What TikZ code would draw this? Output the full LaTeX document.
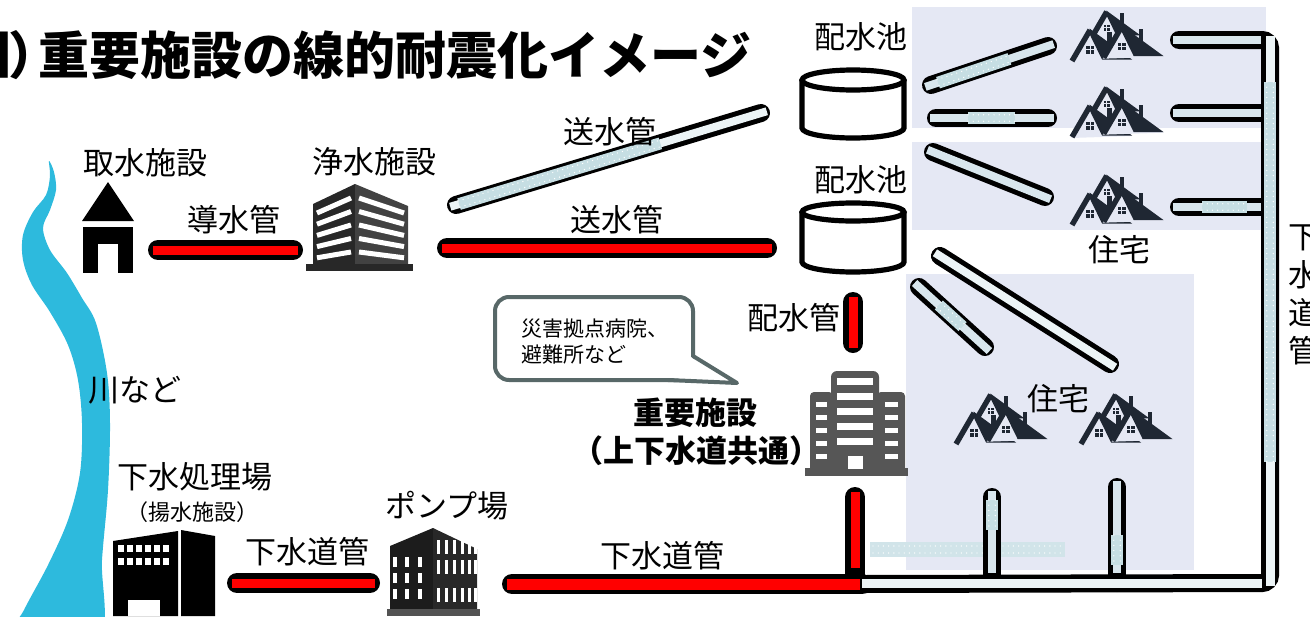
\documentclass[tikz,border=0pt]{standalone}
\usepackage{fontspec}
\setmainfont{Noto Sans CJK JP}
\usetikzlibrary{calc}

\definecolor{river}{RGB}{45,186,221}
\definecolor{pipered}{RGB}{255,0,0}
\definecolor{pipelight}{RGB}{216,230,237}
\definecolor{pipepale}{RGB}{236,244,246}
\definecolor{pipedot}{RGB}{198,222,227}
\definecolor{panel}{RGB}{229,232,244}
\definecolor{roofink}{RGB}{31,39,51}
\definecolor{bldggray}{RGB}{86,86,86}
\definecolor{bubbleline}{RGB}{88,104,104}
\definecolor{plantink}{RGB}{40,40,40}

% one house of the roof cluster, apex at the origin
\newcommand\houseunit[3]{%
  \begin{scope}[shift={(#1,#2)},scale=#3]
    \fill[panel] (0,0) -- (-19,32) -- (42,30) -- cycle;
    \fill[roofink] (-0.5,-1.5) -- (42,29.5) -- (12,29.5) -- (0,5) -- cycle;
    \draw[roofink, line width=2.7pt] (0,0) -- (-18,31);
    \fill[roofink] (17,2) rectangle (21.5,16);
    \fill[roofink] (-3.8,16) rectangle (3.8,23.5);
    \draw[panel, line width=0.5pt] (0,16) -- (0,23.5) (-3.8,19.75) -- (3.8,19.75);
  \end{scope}}

% textured (earthquake-proof) stretch of a pipe between two named points
\newcommand\dotseg[2]{%
  \draw[dotin] (#1) -- (#2);
  \draw[dotmark] ($(#1)!1.6pt!90:(#2)$) -- ($(#2)!1.6pt!-90:(#1)$);
  \draw[dotmark] ($(#1)!1.6pt!-90:(#2)$) -- ($(#2)!1.6pt!90:(#1)$);}

\tikzset{
  lbl/.style={inner sep=0pt, font=\fontsize{15.5pt}{18pt}\selectfont},
  small/.style={inner sep=0pt, font=\fontsize{11pt}{13pt}\selectfont},
  boldlbl/.style={inner sep=0pt, font=\bfseries\fontsize{15.5pt}{19pt}\selectfont},
  redout/.style={draw=black, line width=10pt, line cap=round},
  redin/.style={draw=pipered, line width=4.5pt, shorten <=-2.5pt, shorten >=-2.5pt},
  pipeout/.style={draw=black, line width=9pt, line cap=round},
  lightin/.style={draw=pipelight, line width=4pt, shorten <=-3pt, shorten >=-3pt},
  palein/.style={draw=pipepale, line width=4pt, shorten <=-3pt, shorten >=-3pt},
  dotin/.style={draw=pipedot, line width=6pt},
  dotmark/.style={draw=white, line width=0.7pt, line cap=round, dash pattern=on 0pt off 2.6pt},
  tank/.style={draw=black, line width=2.6pt, fill=white},
  houses/.pic={
    \houseunit{38.7}{1.7}{0.8}
    \houseunit{22}{20}{1}
    \houseunit{53.7}{16.7}{1}
  }
}

\begin{document}
\begin{tikzpicture}[x=0.5pt,y=-0.5pt]
\useasboundingbox (0,0) rectangle (1310,616);
\clip (0,0) rectangle (1310,616);

% residential areas
\fill[panel] (912,7) rectangle (1266,128);
\fill[panel] (912,142) rectangle (1264,230);
\fill[panel] (906,274) rectangle (1194,570);

% river
\fill[river] plot[smooth cycle, tension=0.55] coordinates {
  (49,161) (50,176) (46,195) (33,212) (23,235) (23,260) (32,285) (50,312)
  (68,345) (78,380) (82,423) (80,473) (68,520) (48,565) (24,610) (12,640)
  (98,640) (102,560) (108,490) (110,423) (107,373) (96,323) (82,298)
  (67,273) (50,250) (43,228) (50,210) (56,190) (54,172)};

% intake facility
\fill (108,182) -- (134,221) -- (82,221) -- cycle;
\fill (83,227) rectangle (133,273);
\fill[white] (98,244) rectangle (118,274);

% purification plant
\fill[plantink] (313,204) -- (355,184) -- (355,266) -- (313,266) -- cycle;
\fill[plantink!88!white] (355,184) -- (408,206) -- (408,266) -- (355,266) -- cycle;
\foreach \k in {0,...,4}{
  \draw[white, line width=2.5pt] (317,{213+11.2*\k}) -- (351,{198+13.5*\k});
  \draw[white, line width=2.5pt] (359,{198+13.5*\k}) -- (404,{213+11.2*\k});
}
\fill[plantink] (306,264) rectangle (413,271);

% distribution reservoirs
\draw[tank] (802,80) -- (802,128) arc[start angle=180, end angle=0, x radius=51, y radius=10] -- (904,80);
\draw[tank] (853,80) ellipse [x radius=51, y radius=10];
\draw[tank] (802,212) -- (802,262) arc[start angle=180, end angle=0, x radius=51, y radius=10] -- (904,212);
\draw[tank] (853,212) ellipse [x radius=51, y radius=9];

% key facility building
\begin{scope}[bldggray]
  \fill[rounded corners=3pt] (831,371) rectangle (879,474);
  \fill[rounded corners=2pt] (810,392) rectangle (833,474);
  \fill[rounded corners=2pt] (877,392) rectangle (905,474);
  \fill (805,468) rectangle (908,476);
\end{scope}
\foreach \y in {378,393,408,423,438}{\fill[white] (837,\y) rectangle (873,\y+7);}
\foreach \y in {402,415,428,441,454}{
  \fill[white] (816,\y) rectangle (827,\y+5);
  \fill[white] (885,\y) rectangle (898,\y+5);}
\fill[white] (848,456) rectangle (863,469);

% sewage treatment plant
\fill (113,541) -- (178,531) -- (178,616) -- (113,616) -- cycle;
\fill (181,530) -- (215,536) -- (215,616) -- (181,616) -- cycle;
\foreach \r in {545,558}{\foreach \c in {0,...,5}{\fill[white] ({118+9*\c},\r) rectangle ({124+9*\c},\r+7);}}
\fill[white] (128,600) rectangle (160,616);

% pumping station
\fill[plantink!70!black] (390,546) -- (433,528) -- (433,612) -- (390,612) -- cycle;
\fill[plantink] (433,528) -- (477,549) -- (477,612) -- (433,612) -- cycle;
\foreach \c in {393,405,418}{\foreach \r in {557,573,589}{\fill[white] (\c,\r) rectangle (\c+3.5,\r+10);}}
\foreach \c in {437,445,453,461,468,474}{\foreach \r in {540,560,588}{\fill[white] (\c,\r) rectangle (\c+3,\r+14);}}
\fill[plantink!80!white] (387,609) rectangle (480,616);

% roof clusters
\pic (hA) at (1068,10) {houses};
\pic (hB) at (1068,86) {houses};
\pic (hC) at (1068,174) {houses};
\pic (hD) at (952,393) {houses};
\pic (hE) at (1077,393) {houses};

% faded service line
\fill[pipedot!80!white] (870,542) rectangle (1065,557);
\draw[dotmark] (873,546) -- (1063,546);
\draw[dotmark] (873,553) -- (1063,553);

% ---------- pipes: named end points ----------
\coordinate (dA) at (158,250);  \coordinate (dB) at (293,250);
\coordinate (sA) at (447,248);  \coordinate (sB) at (767,248);
\coordinate (uA) at (456,205);  \coordinate (uB) at (761,113);
\coordinate (hA1) at (853,302); \coordinate (hA2) at (853,343);
\coordinate (gA) at (237,583);  \coordinate (gB) at (370,583);
\coordinate (mA) at (512,584);  \coordinate (mB) at (862,584);
\coordinate (kA) at (855,497);  \coordinate (kB) at (855,583);
\coordinate (pA1) at (931,85);  \coordinate (pA2) at (1048,46);
\coordinate (pB1) at (936,118); \coordinate (pB2) at (1048,118);
\coordinate (pC1) at (1179,40); \coordinate (pC2) at (1270,40);
\coordinate (pD1) at (1179,113); \coordinate (pD2) at (1270,113);
\coordinate (pE1) at (933,152); \coordinate (pE2) at (1045,197);
\coordinate (pF1) at (1179,207); \coordinate (pF2) at (1270,207);
\coordinate (pI1) at (919,287); \coordinate (pI2) at (985,347);
\coordinate (pJ1) at (940,256); \coordinate (pJ2) at (1110,364);
\coordinate (pG1) at (992,497); \coordinate (pG2) at (992,583);
\coordinate (pH1) at (1117,487); \coordinate (pH2) at (1117,583);
\coordinate (vB) at (1270,583);

% outlines
\draw[redout] (dA) -- (dB);
\draw[redout] (sA) -- (sB);
\draw[pipeout] (uA) -- (uB);
\draw[redout] (hA1) -- (hA2);
\draw[redout] (gA) -- (gB);
\draw[redout] (kA) -- (kB);
\draw[redout] (mA) -- (mB);
\draw[pipeout, rounded corners=4pt] (pC1) -- (pC2) -- (vB) -- (mB);
\foreach \a/\b in {pA1/pA2, pB1/pB2, pD1/pD2, pE1/pE2, pF1/pF2, pI1/pI2, pJ1/pJ2, pG1/pG2, pH1/pH2}{\draw[pipeout] (\a) -- (\b);}

% red insides
\draw[redin] (dA) -- (dB);
\draw[redin] (sA) -- (sB);
\draw[redin] (hA1) -- (hA2);
\draw[redin] (gA) -- (gB);
\draw[pipered, line width=4.5pt] (855,492) -- (855,568);
\draw[pipered, line width=5.5pt] (507,584) -- (860,584);

% light insides
\draw[palein] (uA) -- (uB);
\coordinate (u1) at ($(uA)!0.01!(uB)$); \coordinate (u2) at ($(uA)!0.67!(uB)$);
\dotseg{u1}{u2}
\draw[lightin] (pA1) -- (pA2);
\coordinate (a1) at ($(pA1)!0.06!(pA2)$); \coordinate (a2) at ($(pA1)!0.67!(pA2)$);
\dotseg{a1}{a2}
\draw[lightin] (pB1) -- (pB2);
\coordinate (b1) at (968,118); \coordinate (b2) at (1015,118);
\dotseg{b1}{b2}
\draw[lightin, shorten >=0pt] (pC1) -- (1261,40);
\draw[lightin, shorten >=0pt] (pD1) -- (1261,113);
\draw[lightin] (pE1) -- (pE2);
\draw[lightin, shorten >=0pt] (pF1) -- (1261,207);
\coordinate (f1) at (1202,207); \coordinate (f2) at (1247,207);
\dotseg{f1}{f2}
\draw[lightin] (pI1) -- (pI2);
\coordinate (i1) at ($(pI1)!0.3!(pI2)$); \coordinate (i2) at ($(pI1)!0.66!(pI2)$);
\dotseg{i1}{i2}
\draw[palein] (pJ1) -- (pJ2);
\draw[lightin, shorten >=0pt] (pG1) -- (992,573);
\coordinate (g1) at (992,500); \coordinate (g2) at (992,530);
\dotseg{g1}{g2}
\draw[lightin, shorten >=0pt] (pH1) -- (1117,573);
\coordinate (k1) at (1117,535); \coordinate (k2) at (1117,565);
\dotseg{k1}{k2}
\draw[pipepale, line width=4.5pt] (1270,36) -- (1270,586);
\coordinate (v1) at (1270,82); \coordinate (v2) at (1270,462);
\dotseg{v1}{v2}
\draw[pipepale, line width=4.5pt] (862,583) -- (1262,583);

% speech bubble
\draw[bubbleline, line width=2pt, fill=white, rounded corners=7pt] (495,297) rectangle (693,380);
\fill[white] (668,378) -- (691,357) -- (737,383) -- cycle;
\draw[bubbleline, line width=2pt, line join=round] (693,356) -- (737,383) -- (668,380);
\node[small, anchor=north west, align=left, font=\fontsize{10.5pt}{13pt}\selectfont] (bub) at (521,318) {災害拠点病院、\\避難所など};

% labels
\node[inner sep=0pt, anchor=east, font=\bfseries\fontsize{25.5pt}{30pt}\selectfont] (t0) at (12,55) {図};
\node[inner sep=0pt, anchor=west, font=\bfseries\fontsize{25.5pt}{30pt}\selectfont] (t1) at (8,55) {）};
\node[inner sep=0pt, anchor=west, font=\bfseries\fontsize{25.5pt}{30pt}\selectfont] (title) at (38,55) {重要施設の線的耐震化イメージ};
\node[lbl] (l1) at (145,163) {取水施設};
\node[lbl] (l2) at (374,162) {浄水施設};
\node[lbl] (l3) at (234,220) {導水管};
\node[lbl] (l4) at (610,132) {送水管};
\node[lbl] (l5) at (617,220) {送水管};
\node[lbl] (l6) at (861,37) {配水池};
\node[lbl] (l7) at (861,180) {配水池};
\node[lbl] (l8) at (1119,250) {住宅};
\node[lbl] (l9) at (1058,399) {住宅};
\node[lbl] (l10) at (794,318) {配水管};
\node[boldlbl] (l11) at (695,413) {重要施設};
\node[boldlbl] (l12) at (696,451) {（上下水道共通）};
\node[lbl] (l13) at (135,390) {川など};
\node[lbl] (l14) at (195,477) {下水処理場};
\node[small] (l15) at (192,512) {（揚水施設）};
\node[lbl] (l16) at (307,552) {下水道管};
\node[lbl] (l17) at (447,506) {ポンプ場};
\node[lbl] (l18) at (662,556) {下水道管};
\node[lbl, align=center, font=\fontsize{15.5pt}{19pt}\selectfont] (l19) at (1304,295) {下\\水\\道\\管};
\end{tikzpicture}
\end{document}
